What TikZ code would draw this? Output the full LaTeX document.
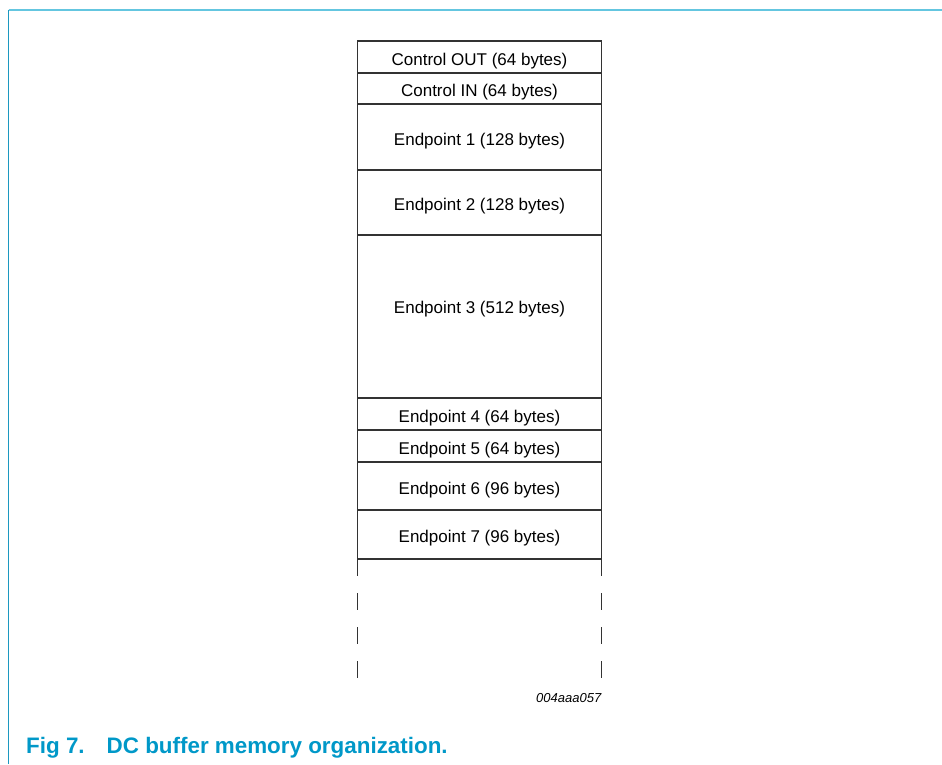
\documentclass[tikz,border=0pt]{standalone}
\usepackage{fontspec}
\setmainfont{Liberation Sans}
\begin{document}
\begin{tikzpicture}[x=1pt,y=-1pt,
  cell/.style={draw=black!80, line width=1.3pt, rectangle, inner sep=0pt, outer sep=0pt,
    minimum width=244pt, anchor=north west, text height=19.6pt, text depth=3.6pt,
    font=\fontsize{17}{20}\selectfont},
  frametop/.style={draw={rgb,255:red,100;green,198;blue,224}, line width=1.6pt},
  frameleft/.style={draw={rgb,255:red,28;green,152;blue,192}, line width=1.4pt},
  gap/.style={draw=black!80, line width=1.3pt, dash pattern=on 17pt off 17pt}]
\useasboundingbox (0,0) rectangle (942,764);

% figure frame
\draw[frametop] (8.5,10) -- (942,10);
\draw[frameleft] (8.5,9.5) -- (8.5,764);

% memory map, one cell per buffer
\node[cell, minimum height=32pt]  (cout) at (357.5,41)  {Control OUT (64 bytes)};
\node[cell, minimum height=31pt]  (cin)  at (357.5,73)  {Control IN (64 bytes)};
\node[cell, minimum height=66pt]  (ep1)  at (357.5,104) {Endpoint 1 (128 bytes)};
\node[cell, minimum height=65pt]  (ep2)  at (357.5,170) {Endpoint 2 (128 bytes)};
\node[cell, minimum height=163pt, text depth=26.6pt] (ep3) at (357.5,235) {Endpoint 3 (512 bytes)};
\node[cell, minimum height=32pt]  (ep4)  at (357.5,398) {Endpoint 4 (64 bytes)};
\node[cell, minimum height=32pt]  (ep5)  at (357.5,430) {Endpoint 5 (64 bytes)};
\node[cell, minimum height=48pt]  (ep6)  at (357.5,462) {Endpoint 6 (96 bytes)};
\node[cell, minimum height=49pt]  (ep7)  at (357.5,510) {Endpoint 7 (96 bytes)};

% open-ended continuation below the last cell
\coordinate (gl) at (357.5,680);
\coordinate (gr) at (601.5,680);
\draw[gap] (ep7.south west) -- (gl);
\draw[gap] (ep7.south east) -- (gr);

% drawing number
\node[anchor=base east, inner sep=0pt, font=\fontsize{13}{15}\selectfont\itshape]
  (code) at (601.5,702) {004aaa057};

% caption
\node[anchor=base west, inner sep=0pt, text={rgb,255:red,0;green,152;blue,200},
  font=\fontsize{22.4}{26}\selectfont\bfseries]
  (cap) at (26,753) {Fig 7.\hspace{22pt}DC buffer memory organization.};
\end{tikzpicture}
\end{document}
